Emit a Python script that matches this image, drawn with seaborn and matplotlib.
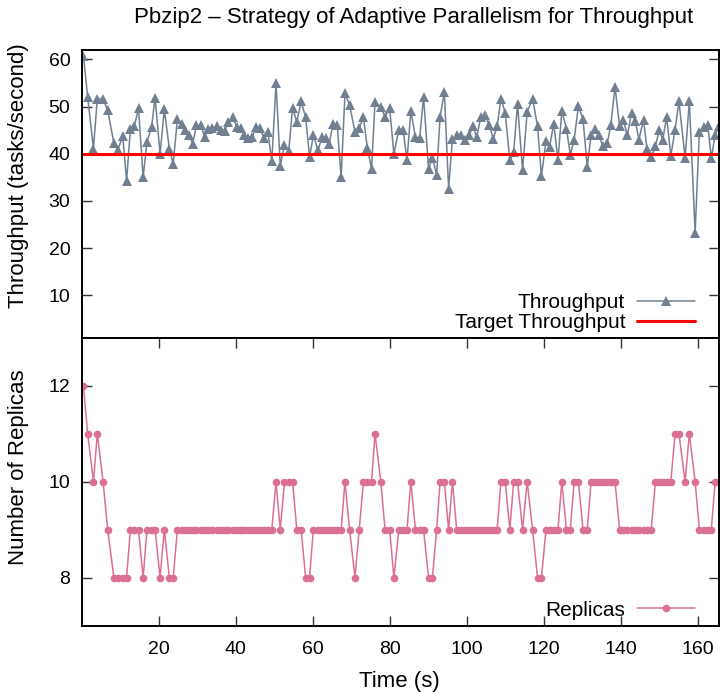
import matplotlib
matplotlib.use("Agg")
import matplotlib.pyplot as plt
import pandas as pd
import seaborn as sns

# ---------------- data ----------------
time_s = [
    0.5, 1.6, 3.1, 4.1, 5.6, 6.8, 8.4, 9.4, 10.7, 11.7, 12.7, 13.7, 14.8, 16.0, 17.0, 18.2, 19.1,
    20.4, 21.5, 22.8, 23.8, 24.9, 26.0, 26.9, 27.9, 28.9, 29.8, 31.0, 32.0, 32.9, 34.0, 35.1, 36.2,
    37.2, 38.1, 39.3, 40.3,
    41.4, 42.3, 43.3, 44.3, 45.3, 46.3, 47.3, 48.4, 49.4, 50.5, 51.6, 52.7, 53.8, 54.8, 55.9, 57.0,
    58.2, 59.2, 60.2, 61.4, 62.4, 63.4, 64.3, 65.3, 66.4, 67.4, 68.4, 69.6, 71.0, 72.1, 73.2, 74.2,
    75.3, 76.2, 77.7, 78.8, 80.0, 81.1,
    82.4, 83.5, 84.5, 85.5, 86.7, 87.8, 88.8, 90.1, 91.1, 92.2, 93.1, 94.2, 95.3, 96.3, 97.4, 98.5,
    99.6, 100.6, 101.7, 102.6, 103.7, 104.8, 105.9, 106.9, 107.9, 108.9, 110.0, 111.2, 112.2, 113.2,
    114.5, 115.7, 117.1, 118.4, 119.4, 120.6,
    121.5, 122.6, 123.7, 124.7, 125.9, 126.9, 127.9, 129.0, 130.2, 131.3, 132.3, 133.4, 134.4, 135.3,
    136.5, 137.4, 138.5, 139.7, 140.7, 141.7, 142.8, 143.8, 144.7, 145.9, 146.8, 147.9, 149.0, 150.0,
    150.9, 151.9, 153.0, 154.1, 155.1, 156.7, 157.8, 159.3, 160.4, 161.5, 162.6, 163.5, 164.5, 165.5,
]

throughput = [
    60.8, 52.1, 41.1, 51.6, 51.6, 49.2, 42.3, 40.7, 43.8, 34.3, 45.2, 45.8, 49.6, 35.0, 42.5, 45.7, 51.9,
    40.0, 49.4, 41.1, 37.9, 47.4, 46.4, 45.1, 43.9, 42.1, 46.0, 46.0, 43.5, 45.3, 45.5, 45.8, 45.1,
    44.8, 46.7, 47.8, 45.7,
    45.5, 43.9, 43.4, 43.5, 45.7, 45.5, 43.4, 44.6, 38.4, 54.9, 37.5, 41.8, 40.6, 49.8, 46.7, 51.1,
    47.7, 39.3, 43.9, 40.7, 43.5, 43.4, 42.1, 46.4, 46.0, 35.0, 52.8, 50.3, 44.6, 45.5, 47.7, 41.3,
    36.8, 51.0, 49.9, 47.8, 49.6, 40.0,
    45.1, 45.0, 38.6, 49.1, 43.5, 43.3, 52.1, 36.8, 39.1, 35.6, 47.9, 53.1, 32.6, 43.2, 43.9, 44.0,
    43.0, 43.9, 45.8, 43.5, 47.9, 48.2, 46.0, 43.2, 45.8, 51.7, 48.7, 38.6, 40.4, 50.6, 36.5, 48.9,
    51.7, 45.8, 35.2, 42.8,
    41.4, 46.4, 38.6, 49.1, 45.3, 39.8, 43.0, 50.1, 47.3, 37.2, 44.0, 45.3, 43.9, 41.6, 42.3, 46.0,
    54.2, 45.8, 47.1, 43.9, 48.7, 46.9, 43.0, 47.2, 41.1, 39.3, 41.6, 45.0, 43.0, 47.8, 39.6, 45.1,
    51.1, 39.1, 51.2, 23.3, 44.6, 45.7, 46.0, 39.1, 43.9, 45.8,
]

replicas = [
    12, 11, 10, 11, 10, 9, 8, 8, 8, 8, 9, 9, 9, 8, 9, 9, 9, 8, 9, 8, 8,
    9, 9, 9, 9, 9, 9, 9, 9, 9, 9, 9, 9, 9, 9, 9, 9, 9, 9, 9, 9, 9, 9, 9, 9, 9,
    10, 9, 10, 10, 10, 9, 9, 8, 8,
    9, 9, 9, 9, 9, 9, 9, 9,
    10, 9, 8, 9, 10, 10, 10, 11, 10, 9, 9, 8,
    9, 9, 9, 10, 9, 9, 9, 8, 8, 9, 10, 10, 9, 10,
    9, 9, 9, 9, 9, 9, 9, 9, 9, 9, 9,
    10, 10, 9, 10, 10, 9, 10, 9, 8, 8,
    9, 9, 9, 9, 10, 9, 9, 10, 10, 9, 9,
    10, 10, 10, 10, 10, 10, 10,
    9, 9, 9, 9, 9, 9, 9, 9, 9,
    10, 10, 10, 10, 10,
    11, 11, 10, 11, 10, 9, 9, 9, 9, 10, 10,
]

target_throughput = 40

title_text = "Pbzip2 \u2013 Strategy of Adaptive Parallelism for Throughput"
x_label = "Time (s)"
top_y_label = "Throughput (tasks/second)"
bottom_y_label = "Number of Replicas"
x_ticks = [20, 40, 60, 80, 100, 120, 140, 160]
top_y_ticks = [10, 20, 30, 40, 50, 60]
bottom_y_ticks = [8, 10, 12]

# ---------------- styling ----------------
sns.set_theme(style="white")
plt.rcParams["font.family"] = ["Liberation Sans", "DejaVu Sans"]
plt.rcParams["axes.edgecolor"] = "black"
plt.rcParams["text.color"] = "black"
plt.rcParams["xtick.color"] = "black"
plt.rcParams["ytick.color"] = "black"
plt.rcParams["xtick.labelcolor"] = "black"
plt.rcParams["ytick.labelcolor"] = "black"

W, H = 720, 693
fig = plt.figure(figsize=(W / 100, H / 100), dpi=100)

left_px, right_px = 81.5, 719.0
top1_px, mid_px, bot2_px = 50.0, 337.7, 625.5


def frac_rect(l, r, t, b):
    return [l / W, 1 - b / H, (r - l) / W, (b - t) / H]


ax1 = fig.add_axes(frac_rect(left_px, right_px, top1_px, mid_px))
ax2 = fig.add_axes(frac_rect(left_px, right_px, mid_px, bot2_px), sharex=ax1)

df = pd.DataFrame({"time": time_s, "throughput": throughput, "replicas": replicas})

sns.lineplot(data=df, x="time", y="throughput", ax=ax1, color="#708090",
             marker="^", markersize=6.5, markeredgewidth=0, linewidth=1.1,
             errorbar=None, label="Throughput")
ax1.axhline(target_throughput, color="#ff0000", linewidth=2.2, label="Target Throughput")

sns.lineplot(data=df, x="time", y="replicas", ax=ax2, color="#db7093",
             marker="o", markersize=5.5, markeredgewidth=0, linewidth=1.1,
             errorbar=None, label="Replicas")

ax1.set_xlim(0, 165.5)
ax1.set_ylim(1, 62)
ax2.set_ylim(7, 13)

ax1.set_yticks(top_y_ticks)
ax2.set_yticks(bottom_y_ticks)
ax2.set_xticks(x_ticks)

tick_fs = 14
legend_fs = 15
label_fs = 16

for ax in (ax1, ax2):
    for s in ax.spines.values():
        s.set_linewidth(1.4)
        s.set_color("black")
    ax.tick_params(axis="y", direction="in", length=7, width=1, left=True, right=True,
                   labelsize=tick_fs, pad=8, color="#333333", labelcolor="black")

ax1.tick_params(axis="x", bottom=False, top=False, labelbottom=False)
ax2.tick_params(axis="x", direction="in", length=7, width=1, bottom=True, top=True,
                labelsize=tick_fs, pad=11, color="#333333", labelcolor="black")

ax1.set_xlabel("")
ax1.set_ylabel("")
ax2.set_ylabel("")
ax2.set_xlabel("")

fig.text(19 / W, 1 - 176 / H, top_y_label, rotation=90, ha="center", va="center",
         fontsize=label_fs, color="black")
fig.text(19 / W, 1 - 467 / H, bottom_y_label, rotation=90, ha="center", va="center",
         fontsize=label_fs, color="black")
fig.text(399 / W, 1 - 681 / H, x_label, ha="center", va="center", fontsize=label_fs, color="black")
fig.text(414 / W, 1 - 18 / H, title_text, ha="center", va="center", fontsize=label_fs, color="black")

ax_w = right_px - left_px
leg_right = (695 - left_px) / ax_w
leg1 = ax1.legend(loc="lower right", bbox_to_anchor=(leg_right, 0.02), frameon=False,
                  markerfirst=False, fontsize=legend_fs, handlelength=2.8, handletextpad=0.55,
                  numpoints=1, borderaxespad=0, borderpad=0, labelspacing=0.05)
leg2 = ax2.legend(loc="lower right", bbox_to_anchor=(leg_right, 0.02), frameon=False,
                  markerfirst=False, fontsize=legend_fs, handlelength=2.8, handletextpad=0.55,
                  numpoints=1, borderaxespad=0, borderpad=0)
for leg in (leg1, leg2):
    for t in leg.get_texts():
        t.set_color("black")

fig.savefig("out.png", dpi=100)
